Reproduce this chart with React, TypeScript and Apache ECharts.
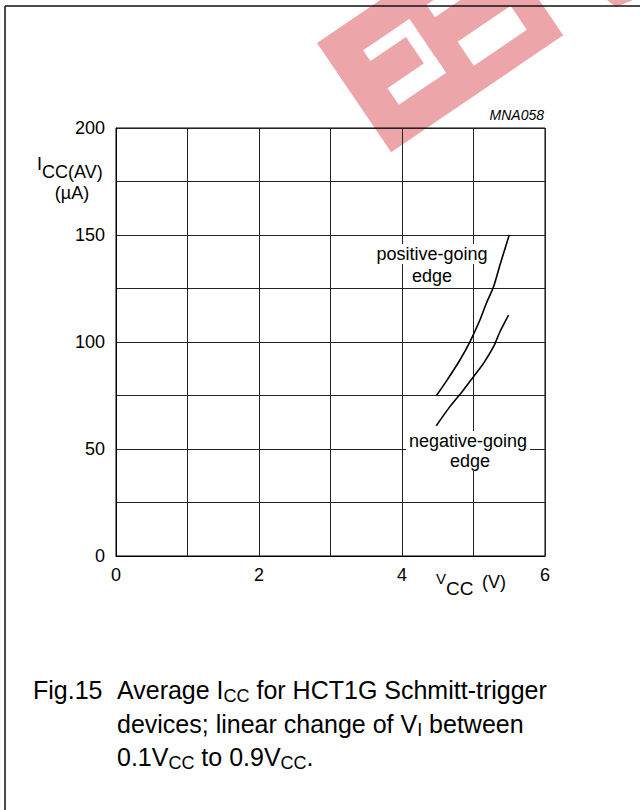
import React, { useEffect, useRef } from 'react';
import * as echarts from 'echarts';

const FONT = '"Liberation Sans", Arial, Helvetica, sans-serif';
const RED = '#eca6aa';

// Axis ranges / ticks
const xMin = 0, xMax = 6, xStep = 1;
const yMin = 0, yMax = 200, yStep = 25;
const xLabelValues = [0, 2, 4, 6];
const yLabelValues = [0, 50, 100, 150, 200];

// Curves
const positiveX = [4.48, 4.63, 4.81, 4.95, 5.09, 5.18, 5.28, 5.37, 5.5];
const positiveY = [74.9, 82.2, 91.6, 100.1, 110.3, 118.1, 125.8, 136, 150];
const negativeX = [4.48, 4.67, 4.86, 5.0, 5.14, 5.28, 5.37, 5.49];
const negativeY = [60.9, 69.8, 77.6, 83.8, 90, 97.8, 104.8, 112.6];

let ctx: CanvasRenderingContext2D | null = null;
function measure(text: string, size: number, italic = false) {
  if (!ctx) ctx = document.createElement('canvas').getContext('2d');
  ctx!.font = `${italic ? 'italic ' : ''}${size}px ${FONT}`;
  return ctx!.measureText(text).width;
}

function txt(text: string, x: number, y: number, size: number, extra: any = {}, z = 10) {
  return {
    type: 'text',
    z,
    style: { text, x, y, fontSize: size, fontFamily: FONT, fill: '#000', align: 'left', verticalAlign: 'middle', ...extra },
  };
}

type Part = { t: string; s: number; dy?: number };
function runs(x0: number, y: number, parts: Part[]) {
  let x = x0;
  return parts.map((p) => {
    const el = txt(p.t, x, y + (p.dy || 0), p.s);
    x += measure(p.t, p.s);
    return el;
  });
}

export default function App() {
  const ref = useRef<HTMLDivElement>(null);
  useEffect(() => {
    if (!ref.current) return;
    const chart = echarts.init(ref.current, undefined, { renderer: 'svg' });
    const CAP = 25, SUB = 18, SUBDY = 6;
    const graphic: any[] = [
      // watermark
      {
        type: 'group', x: 317, y: 43, rotation: 0.597, z: -1,
        children: [
          { type: 'rect', z: -1, shape: { x: 0, y: 0, width: 208, height: 132 }, style: { fill: RED } },
          { type: 'rect', z: -1, shape: { x: 34, y: 32, width: 56, height: 13 }, style: { fill: '#fff' } },
          { type: 'rect', z: -1, shape: { x: 77, y: 32, width: 13, height: 65 }, style: { fill: '#fff' } },
          { type: 'rect', z: -1, shape: { x: 33, y: 77, width: 57, height: 20 }, style: { fill: '#fff' } },
          { type: 'rect', z: -1, shape: { x: 117, y: 78, width: 64, height: 29 }, style: { fill: '#fff' } },
          { type: 'rect', z: -1, shape: { x: 112, y: 30, width: 90, height: 15 }, style: { fill: '#fff' } },
        ],
      },
      { type: 'polygon', z: -1, shape: { points: [[607, 0], [633, 0], [616, 7]] }, style: { fill: RED } },
      // frame
      { type: 'line', z: 20, shape: { x1: 5, y1: 6, x2: 640, y2: 6 }, style: { stroke: '#111', lineWidth: 1.5 } },
      { type: 'line', z: 20, shape: { x1: 5, y1: 6, x2: 5, y2: 810 }, style: { stroke: '#111', lineWidth: 1.5 } },
      // id
      txt('MNA058', 544, 115, 14, { align: 'right', fontStyle: 'italic' }),
      // y axis name
      txt('I', 37, 164, 18),
      txt('CC(AV)', 42, 172, 18),
      txt('(\u00b5A)', 72, 193, 18, { align: 'center' }),
      // x axis name
      txt('V', 436, 578, 15),
      txt('CC', 446, 588, 19),
      txt('(V)', 482, 582, 18),
      // curve labels
      txt('positive-going', 432, 254, 18, { align: 'center', backgroundColor: '#fff', padding: [1, 2] }),
      txt('edge', 432, 276, 18, { align: 'center', backgroundColor: '#fff', padding: [1, 2] }),
      txt('negative-going', 468, 441, 18, { align: 'center', backgroundColor: '#fff', padding: [1, 3] }),
      txt('edge', 470, 461, 18, { align: 'center', backgroundColor: '#fff', padding: [1, 2] }),
      // caption
      txt('Fig.15', 33, 690, CAP),
      ...runs(117, 690, [
        { t: 'Average I', s: CAP },
        { t: 'CC', s: SUB, dy: SUBDY },
        { t: ' for HCT1G Schmitt-trigger', s: CAP },
      ]),
      ...runs(117, 724, [
        { t: 'devices; linear change of V', s: CAP },
        { t: 'I', s: SUB, dy: SUBDY },
        { t: ' between', s: CAP },
      ]),
      ...runs(117, 757, [
        { t: '0.1V', s: CAP },
        { t: 'CC', s: SUB, dy: SUBDY },
        { t: ' to 0.9V', s: CAP },
        { t: 'CC', s: SUB, dy: SUBDY },
        { t: '.', s: CAP },
      ]),
    ];

    const lineStyle = { color: '#000', width: 1.6 };
    chart.setOption({
      animation: false,
      backgroundColor: '#fff',
      grid: { left: 116, top: 128, width: 429, height: 428, show: true, borderColor: '#000', borderWidth: 1, backgroundColor: 'transparent' },
      xAxis: {
        type: 'value', min: xMin, max: xMax, interval: xStep,
        axisLine: { show: true, lineStyle: { color: '#000', width: 1 } },
        axisTick: { show: false },
        splitLine: { show: true, lineStyle: { color: '#222', width: 1 } },
        axisLabel: {
          margin: 10, fontSize: 18, color: '#000', fontFamily: FONT,
          formatter: (v: number) => (xLabelValues.includes(v) ? String(v) : ''),
        },
      },
      yAxis: {
        type: 'value', min: yMin, max: yMax, interval: yStep,
        axisLine: { show: true, lineStyle: { color: '#000', width: 1 } },
        axisTick: { show: false },
        splitLine: { show: true, lineStyle: { color: '#222', width: 1 } },
        axisLabel: {
          margin: 11, fontSize: 18, color: '#000', fontFamily: FONT,
          formatter: (v: number) => (yLabelValues.includes(v) ? String(v) : ''),
        },
      },
      series: [
        {
          name: 'positive-going edge', type: 'line', smooth: 0.3, showSymbol: false, z: 5,
          lineStyle, data: positiveX.map((x, i) => [x, positiveY[i]]),
        },
        {
          name: 'negative-going edge', type: 'line', smooth: 0.3, showSymbol: false, z: 5,
          lineStyle, data: negativeX.map((x, i) => [x, negativeY[i]]),
        },
      ],
      graphic,
    });
    return () => chart.dispose();
  }, []);
  return <div ref={ref} style={{ position: 'absolute', left: 0, top: 0, width: 640, height: 810 }} />;
}
